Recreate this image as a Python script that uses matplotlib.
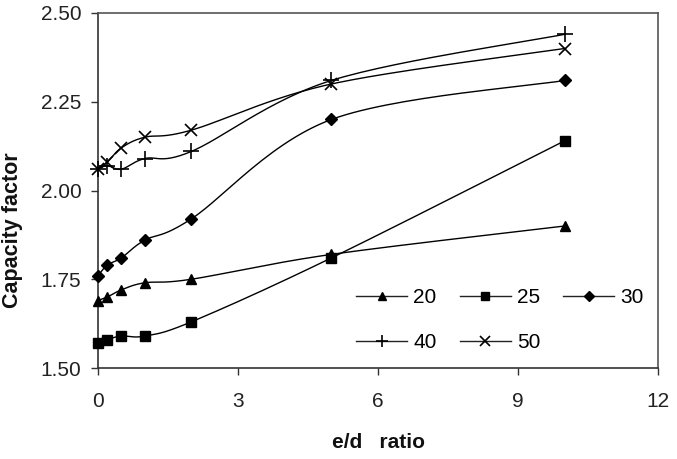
import numpy as np
import matplotlib
matplotlib.use("Agg")
import matplotlib.pyplot as plt
from matplotlib.lines import Line2D

x_vals = [0, 0.2, 0.5, 1, 2, 5, 10]
series_labels = ["20", "25", "30", "40", "50"]
s20 = [1.69, 1.70, 1.72, 1.74, 1.75, 1.82, 1.90]
s25 = [1.57, 1.58, 1.59, 1.59, 1.63, 1.81, 2.14]
s30 = [1.76, 1.79, 1.81, 1.86, 1.92, 2.20, 2.31]
s40 = [2.06, 2.07, 2.06, 2.09, 2.11, 2.31, 2.44]
s50 = [2.06, 2.08, 2.12, 2.15, 2.17, 2.30, 2.40]
series = [s20, s25, s30, s40, s50]
markers = ["^", "s", "D", "+", "x"]
msizes = [7.5, 6.5, 6, 11, 8.5]
xticks = [0, 3, 6, 9, 12]
yticks = [1.50, 1.75, 2.00, 2.25, 2.50]

plt.rcParams['font.family'] = ['Liberation Sans', 'DejaVu Sans']

W, H = 677, 459
fig = plt.figure(figsize=(W / 100, H / 100), dpi=100)
ax = fig.add_axes([98 / W, 1 - 368 / H, 560 / W, 355 / H])
ax.set_xlim(0, 12)
ax.set_ylim(1.5, 2.5)

# scales to mimic screen-space smoothing
sx = 560 / 12.0
sy = 355 / 1.0

def smooth(xs, ys, n=30):
    P = np.column_stack([np.array(xs) * sx, np.array(ys) * sy])
    out = []
    for i in range(len(P) - 1):
        p0 = P[i - 1] if i > 0 else P[i]
        p1 = P[i]
        p2 = P[i + 1]
        p3 = P[i + 2] if i + 2 < len(P) else P[i + 1]
        c1 = p1 + (p2 - p0) / 6.0
        c2 = p2 - (p3 - p1) / 6.0
        t = np.linspace(0, 1, n)[:, None]
        seg = ((1 - t) ** 3) * p1 + 3 * ((1 - t) ** 2) * t * c1 + 3 * (1 - t) * t ** 2 * c2 + t ** 3 * p2
        out.append(seg if i == 0 else seg[1:])
    Q = np.vstack(out)
    return Q[:, 0] / sx, Q[:, 1] / sy

handles = {}
for ys, m, ms, lab in zip(series, markers, msizes, series_labels):
    cx, cy = smooth(x_vals, ys)
    mew = 1.2 if m in ['+', 'x'] else 1.0
    ax.plot(cx, cy, color='black', lw=1.0, zorder=2)
    ax.plot(x_vals, ys, linestyle='none', marker=m, color='black', markersize=ms,
            markeredgewidth=mew, zorder=3, clip_on=False)
    handles[lab] = Line2D([0], [0], color='#222222', lw=1.0, marker=m, markersize=ms * 0.85,
                          markerfacecolor='black', markeredgecolor='black',
                          markeredgewidth=mew, label=lab)

ax.set_xticks(xticks)
ax.set_xticklabels([str(v) for v in xticks])
ax.set_yticks(yticks)
ax.set_yticklabels([f"{v:.2f}" for v in yticks])
ax.tick_params(direction='out', length=5, width=1, colors='#333333', labelsize=15,
               labelcolor='#222222')
ax.tick_params(axis='x', pad=12)
ax.tick_params(axis='y', pad=7)
for sp in ax.spines.values():
    sp.set_color('#555555')
    sp.set_linewidth(1.2)
ax.spines['left'].set_color('#333333')
ax.spines['bottom'].set_color('#333333')

fig.text(378 / W, 1 - 443 / H, "e/d   ratio", fontsize=15, fontweight='bold',
         ha='center', va='center', color='#111111')
fig.text(2 / W, 1 - 230 / H, "Capacity factor", fontsize=15.5, fontweight='bold',
         rotation=90, ha='left', va='center', color='#111111')

order = ["20", "40", "25", "50", "30"]
leg = ax.legend(handles=[handles[k] for k in order], ncol=3, frameon=False, fontsize=15,
                loc='upper left', bbox_to_anchor=(356 / W, 1 - 288 / H),
                bbox_transform=fig.transFigure, borderpad=0, borderaxespad=0,
                handlelength=2.45, handletextpad=0.3, columnspacing=1.1,
                labelspacing=1.25)

fig.savefig("out.png", dpi=100)
